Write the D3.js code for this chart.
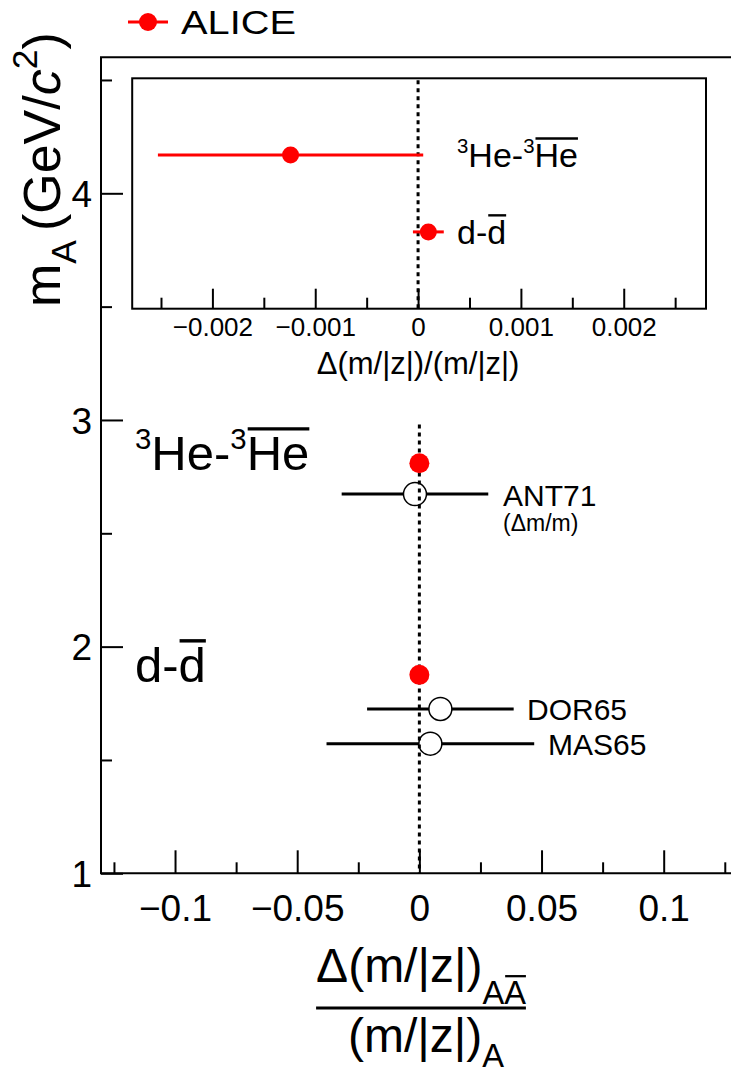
<!DOCTYPE html>
<html>
<head>
<meta charset="utf-8">
<script src="https://cdn.jsdelivr.net/npm/d3@7"></script>
<style>
  body { margin: 0; background: #fff; }
  svg { display: block; }
  text { font-family: "Liberation Sans", Arial, Helvetica, sans-serif; fill: #000; }
</style>
</head>
<body>
<svg id="chart" width="731" height="1076"></svg>
<script>
// ---- data ----
// ALICE measurements (main panel: mass vs relative difference; inset: zoomed x)
const aliceSpecies = ["3He", "d"];
const aliceMass = [2.809, 1.8756];          // GeV/c^2
const aliceMainDelta = [0.0, 0.0];
const aliceInsetDelta = [-0.00124, 0.0001];
const aliceInsetErr = [0.00129, 0.00015];
const aliceInsetRow = [2, 1];

// Earlier measurements
const refLabels = ["ANT71", "DOR65", "MAS65"];
const refMass = [2.673, 1.725, 1.572];
const refDelta = [-0.0018, 0.0086, 0.0045];
const refErr = [0.030, 0.030, 0.0425];

// Axis ticks
const mainXTicks = [-0.1, -0.05, 0, 0.05, 0.1];
const mainXTickLabels = ["\u22120.1", "\u22120.05", "0", "0.05", "0.1"];
const mainXMinor = [-0.125, -0.075, -0.025, 0.025, 0.075, 0.125];
const mainYTicks = [1, 2, 3, 4];
const mainYTickLabels = ["1", "2", "3", "4"];
const mainYMinor = [1.5, 2.5, 3.5, 4.5];
const insetXTicks = [-0.002, -0.001, 0, 0.001, 0.002];
const insetXTickLabels = ["\u22120.002", "\u22120.001", "0", "0.001", "0.002"];
const insetXMinor = [-0.0025, -0.0015, -0.0005, 0.0005, 0.0015, 0.0025];

const RED = "#ff0000";
const svg = d3.select("#chart");

// ---- scales ----
const x = d3.scaleLinear().domain([-0.1303, 0.130]).range([101, 737]);
const y = d3.scaleLinear().domain([1, 4.6]).range([873.3, 57.3]);
const xi = d3.scaleLinear().domain([-0.00278, 0.0028]).range([132.2, 706]);
const yi = d3.scaleLinear().domain([0, 3]).range([308.7, 78.3]);

// text with sub/superscripts and overlines, laid out piece by piece
function rich(parent, tx, ty, parts, size, rotate) {
  const g = parent.append("g")
    .attr("transform", `translate(${tx},${ty})` + (rotate ? ` rotate(${rotate})` : ""));
  let cx = 0;
  parts.forEach(p => {
    const s = (p.sub || p.sup) ? size * (p.scale || 0.68) : size;
    const dy = p.sup ? -size * (p.lift || 0.42) : p.sub ? size * (p.drop || 0.3) : 0;
    const t = g.append("text").attr("x", cx).attr("y", dy)
      .attr("font-size", s).text(p.t);
    if (p.italic) t.attr("font-style", "italic");
    const w = t.node().getComputedTextLength();
    if (p.over) {
      g.append("line").attr("x1", cx + 1).attr("x2", cx + w)
        .attr("y1", dy - s * 0.84).attr("y2", dy - s * 0.84)
        .attr("stroke", "#000").attr("stroke-width", Math.max(2, s * 0.07));
    }
    cx += w + (p.gap || 0);
  });
  return { g, width: cx };
}

// ---- main frame (right side lies outside the canvas) ----
const main = svg.append("g");
main.append("path")
  .attr("d", `M${x.range()[1]},${y(4.6)} H${x.range()[0]} V${y(1)} H${x.range()[1]}`)
  .attr("fill", "none").attr("stroke", "#000").attr("stroke-width", 2);

// x axis (ticks pointing into the plot)
const xAxis = main.append("g").attr("transform", `translate(0,${y(1)})`)
  .call(d3.axisBottom(x).tickValues(mainXTicks).tickSizeInner(-23).tickSizeOuter(0)
    .tickFormat((d, i) => mainXTickLabels[i]));
const xAxisMinor = main.append("g").attr("transform", `translate(0,${y(1)})`)
  .call(d3.axisBottom(x).tickValues(mainXMinor).tickSizeInner(-11).tickSizeOuter(0).tickFormat(""));
// y axis
const yAxis = main.append("g").attr("transform", `translate(${x.range()[0]},0)`)
  .call(d3.axisLeft(y).tickValues(mainYTicks).tickSizeInner(-22).tickSizeOuter(0)
    .tickPadding(9).tickFormat((d, i) => mainYTickLabels[i]));
const yAxisMinor = main.append("g").attr("transform", `translate(${x.range()[0]},0)`)
  .call(d3.axisLeft(y).tickValues(mainYMinor).tickSizeInner(-11).tickSizeOuter(0).tickFormat(""));
[xAxis, xAxisMinor, yAxis, yAxisMinor].forEach(a => {
  a.select(".domain").remove();
  a.selectAll("line").attr("stroke", "#000").attr("stroke-width", 2);
  a.selectAll("text").attr("font-size", 37).attr("font-family", null).attr("fill", "#000");
});
xAxis.selectAll("text").attr("dy", "0.71em").attr("y", 21);
yAxis.selectAll("text").attr("dy", "0.36em");

// zero line
main.append("line").attr("x1", x(0)).attr("x2", x(0)).attr("y1", y(2.98)).attr("y2", y(1))
  .attr("stroke", "#000").attr("stroke-width", 3).attr("stroke-dasharray", "4,4");

// earlier measurements: open markers with horizontal bars
const rOpen = 11.5;
refLabels.forEach((lab, i) => {
  const cx = x(refDelta[i]), cy = y(refMass[i]);
  main.append("line").attr("x1", x(refDelta[i] - refErr[i])).attr("x2", cx - rOpen)
    .attr("y1", cy).attr("y2", cy).attr("stroke", "#000").attr("stroke-width", 3);
  main.append("line").attr("x1", cx + rOpen).attr("x2", x(refDelta[i] + refErr[i]))
    .attr("y1", cy).attr("y2", cy).attr("stroke", "#000").attr("stroke-width", 3);
  main.append("circle").attr("cx", cx).attr("cy", cy).attr("r", rOpen)
    .attr("fill", "none").attr("stroke", "#000").attr("stroke-width", 1.5);
});
// labels of earlier measurements
main.append("text").attr("x", 503).attr("y", 506).attr("font-size", 30).text(refLabels[0]);
main.append("text").attr("x", 503).attr("y", 531).attr("font-size", 23).text("(\u0394m/m)");
main.append("text").attr("x", 527).attr("y", y(refMass[1]) + 11).attr("font-size", 30).text(refLabels[1]);
main.append("text").attr("x", 548).attr("y", y(refMass[2]) + 11).attr("font-size", 30).text(refLabels[2]);

// ALICE points in main panel
aliceSpecies.forEach((s, i) => {
  main.append("circle").attr("cx", x(aliceMainDelta[i])).attr("cy", y(aliceMass[i]))
    .attr("r", 10).attr("fill", RED);
});

// species labels in main panel
rich(main, 135, 470, [
  { t: "3", sup: true, scale: 0.6 }, { t: "He-" }, { t: "3", sup: true, scale: 0.6 }, { t: "He", over: true }
], 49);
rich(main, 135, 682, [{ t: "d-" }, { t: "d", over: true }], 49);

// ---- inset ----
const inset = svg.append("g");
inset.append("rect").attr("x", xi.range()[0]).attr("y", yi(3))
  .attr("width", xi.range()[1] - xi.range()[0]).attr("height", yi(0) - yi(3))
  .attr("fill", "#fff").attr("stroke", "#000").attr("stroke-width", 2);
const ixAxis = inset.append("g").attr("transform", `translate(0,${yi(0)})`)
  .call(d3.axisBottom(xi).tickValues(insetXTicks).tickSizeInner(-20).tickSizeOuter(0)
    .tickFormat((d, i) => insetXTickLabels[i]));
const ixAxisMinor = inset.append("g").attr("transform", `translate(0,${yi(0)})`)
  .call(d3.axisBottom(xi).tickValues(insetXMinor).tickSizeInner(-11).tickSizeOuter(0).tickFormat(""));
[ixAxis, ixAxisMinor].forEach(a => {
  a.select(".domain").remove();
  a.selectAll("line").attr("stroke", "#000").attr("stroke-width", 2);
  a.selectAll("text").attr("font-size", 26).attr("font-family", null).attr("fill", "#000");
});
ixAxis.selectAll("text").attr("dy", "0.71em").attr("y", 9);

inset.append("line").attr("x1", xi(0)).attr("x2", xi(0)).attr("y1", yi(3) + 2).attr("y2", yi(0))
  .attr("stroke", "#000").attr("stroke-width", 3).attr("stroke-dasharray", "4,4");

aliceSpecies.forEach((s, i) => {
  const cy = yi(aliceInsetRow[i]);
  inset.append("line")
    .attr("x1", xi(aliceInsetDelta[i] - aliceInsetErr[i]))
    .attr("x2", xi(aliceInsetDelta[i] + aliceInsetErr[i]))
    .attr("y1", cy).attr("y2", cy).attr("stroke", RED).attr("stroke-width", 3);
  inset.append("circle").attr("cx", xi(aliceInsetDelta[i])).attr("cy", cy)
    .attr("r", 8.5).attr("fill", RED);
});

rich(inset, 457, yi(2) + 12, [
  { t: "3", sup: true, scale: 0.6 }, { t: "He-" }, { t: "3", sup: true, scale: 0.6 }, { t: "He", over: true }
], 34);
rich(inset, 457, yi(1) + 12, [{ t: "d-" }, { t: "d", over: true }], 34);

inset.append("text").attr("x", xi(0)).attr("y", 374).attr("text-anchor", "middle")
  .attr("font-size", 31).text("\u0394(m/|z|)/(m/|z|)");

// ---- legend ----
const legend = svg.append("g");
legend.append("line").attr("x1", 128).attr("x2", 168).attr("y1", 22).attr("y2", 22)
  .attr("stroke", RED).attr("stroke-width", 3);
legend.append("circle").attr("cx", 148).attr("cy", 22).attr("r", 9).attr("fill", RED);
legend.append("text").attr("x", 181).attr("y", 34).attr("font-size", 34)
  .attr("textLength", 115).attr("lengthAdjust", "spacingAndGlyphs").text("ALICE");

// ---- axis titles ----
// y title (rotated)
rich(svg, 60, 307, [
  { t: "m" }, { t: "A", sub: true, drop: 0.3, gap: 9 }, { t: "(GeV/" }, { t: "c", italic: true },
  { t: "2", sup: true, lift: 0.45 }, { t: ")" }
], 52, -90);

// x title as a fraction
const num = rich(svg, 0, 982, [
  { t: "\u0394(m/|z|)" }, { t: "A", sub: true, drop: 0.45 }, { t: "A", sub: true, drop: 0.45, over: true }
], 48);
const den = rich(svg, 0, 1052, [{ t: "(m/|z|)" }, { t: "A", sub: true, drop: 0.32 }], 48);
const fw = Math.max(num.width, den.width);
const fx = 421 - fw / 2;
num.g.attr("transform", `translate(${421 - num.width / 2},982)`);
den.g.attr("transform", `translate(${421 - den.width / 2 + 5},1052)`);
svg.append("line").attr("x1", fx).attr("x2", fx + fw).attr("y1", 1008).attr("y2", 1008)
  .attr("stroke", "#000").attr("stroke-width", 3);
</script>
</body>
</html>
